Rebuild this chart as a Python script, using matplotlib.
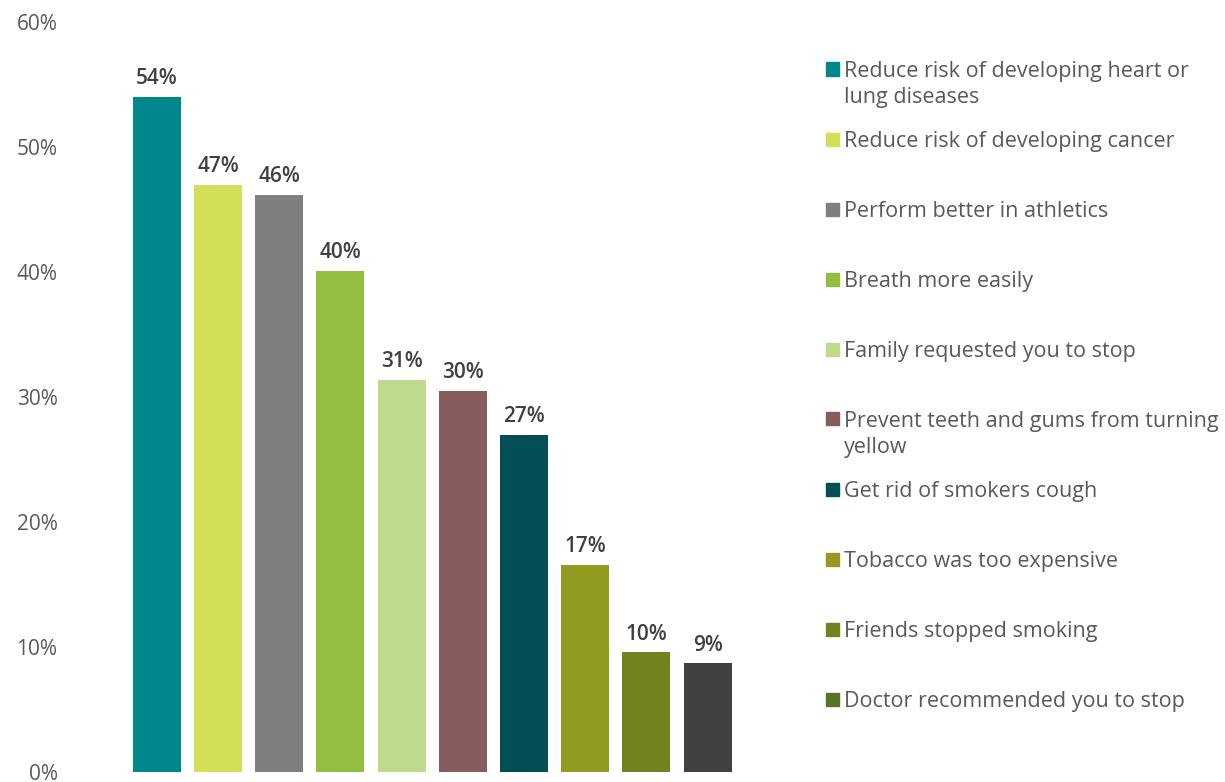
import matplotlib
matplotlib.use("Agg")
import matplotlib.pyplot as plt
from matplotlib.patches import Rectangle
from matplotlib.ticker import FuncFormatter

reasons = [
    "Reduce risk of developing heart or\nlung diseases",
    "Reduce risk of developing cancer",
    "Perform better in athletics",
    "Breath more easily",
    "Family requested you to stop",
    "Prevent teeth and gums from turning\nyellow",
    "Get rid of smokers cough",
    "Tobacco was too expensive",
    "Friends stopped smoking",
    "Doctor recommended you to stop",
]
values = [54.0, 47.0, 46.2, 40.1, 31.4, 30.5, 27.0, 16.6, 9.6, 8.7]
value_labels = ["54%", "47%", "46%", "40%", "31%", "30%", "27%", "17%", "10%", "9%"]
bar_colors = ["#00878C", "#D3DF58", "#7F7F7F", "#94BE3F", "#BEDB8C",
              "#875C5C", "#025056", "#919B20", "#71831F", "#404040"]
# legend swatches (last one differs from the bar in the original)
legend_colors = bar_colors[:-1] + ["#59732A"]
yticks = [0, 10, 20, 30, 40, 50, 60]

plt.rcParams['font.family'] = ['Open Sans', 'DejaVu Sans']

W, H = 1225, 782
fig = plt.figure(figsize=(W / 100, H / 100), dpi=100)
ax = fig.add_axes([95 / W, 10 / H, (770 - 95) / W, (772 - 22) / H])

x = list(range(len(values)))
ax.bar(x, values, width=0.785, color=bar_colors)
for xi, v, lab in zip(x, values, value_labels):
    ax.annotate(lab, (xi, v), xytext=(0, 9), textcoords="offset points",
                ha="center", va="baseline", fontsize=15, color="#404040",
                fontweight="semibold")

ax.set_xlim(-1.01, 10.02)
ax.set_ylim(0, 60)
ax.set_yticks(yticks)
ax.yaxis.set_major_formatter(FuncFormatter(lambda v, p: f"{v:.0f}%"))
ax.tick_params(axis="y", length=0, labelsize=15, labelcolor="#595959", pad=27)
ax.set_xticks([])
for s in ax.spines.values():
    s.set_visible(False)

# legend drawn by hand to get the fixed Excel-like row spacing
for i, (lab, c) in enumerate(zip(reasons, legend_colors)):
    yc = 69 + 70 * i
    fig.patches.append(Rectangle((826 / W, 1 - (yc + 6.5) / H), 13 / W, 13 / H,
                                 transform=fig.transFigure, color=c))
    for k, line in enumerate(lab.split("\n")):
        fig.text(844 / W, 1 - (yc + 8 + 26 * k) / H, line, ha="left", va="baseline",
                 fontsize=15.5, color="#595959")

fig.savefig("out.png", dpi=100)
